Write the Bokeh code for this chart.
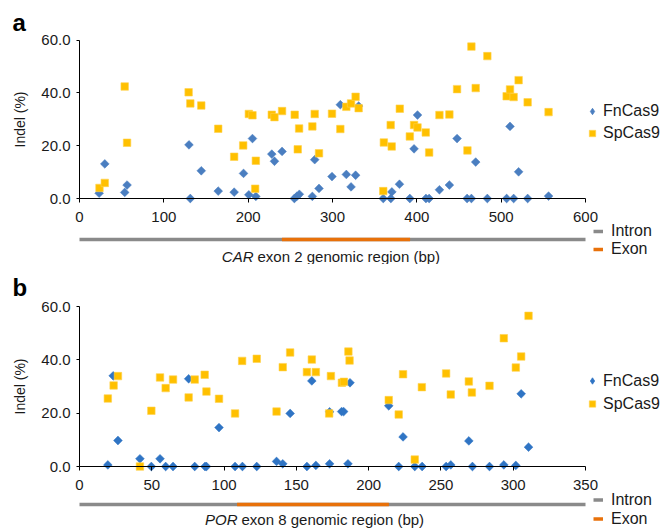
import numpy as np
from bokeh.plotting import figure
from bokeh.models import (Range1d, FixedTicker, NumeralTickFormatter, Legend,
                          LegendItem, Label)
from bokeh.layouts import column
from bokeh.embed import file_html
from bokeh.resources import INLINE

# ---------------- data ----------------
# Panel a: CAR exon 2
a_fn_x = [23.3, 30, 53.6, 56.4, 129.8, 131.4, 144.4, 164.5, 183.4, 194.5, 200.8, 205.1, 209.1,
          228, 231.2, 240.2, 254.8, 257.6, 260.7, 276.1, 278.9, 284, 299.4, 309.3, 316.4, 322,
          327.4, 331, 360.2, 369.2, 370.4, 379.4, 391.7, 396.7, 400.8, 410.8, 414.6, 426.8,
          438.6, 447.7, 459.6, 464.7, 469.8, 483.6, 506.5, 510.5, 514.8, 520.7, 531.4, 556.2]
a_fn_y = [2.0, 13.1, 2.3, 5.1, 20.3, 0, 10.5, 2.8, 2.4, 9.5, 1.4, 22.7, 0.8,
          16.8, 14.1, 17.8, 0, 0.8, 1.6, 0.8, 14.7, 3.8, 8.3, 35.5, 9.1, 4.4,
          8.8, 35.0, 0, 0, 2.5, 5.4, 0, 18.8, 31.6, 0, 0, 3.3,
          5.1, 22.7, 0, 0, 13.8, 0, 0, 27.3, 0, 10.1, 0, 0.9]
a_sp_x = [23.7, 30, 53.6, 56.4, 129.4, 131.4, 144.4, 164.5, 183.4, 194.1, 200.8, 205.1, 208.3,
          209.1, 228, 231.2, 240.2, 255.2, 258.8, 260.4, 276.1, 278.9, 284, 299.4, 309.3, 316.4,
          322, 327.4, 331, 360.2, 360.9, 369.0, 370.2, 379.8, 391.7, 396.7, 400.8, 410.6, 414.6,
          426.8, 438.6, 447.7, 460, 464.7, 469.8, 483.6, 506.5, 510.5, 514.8, 520.7, 531.4, 556.2]
a_sp_y = [4.0, 5.9, 42.4, 21.1, 40.2, 36.0, 35.2, 26.4, 15.8, 20.1, 32.0, 31.5, 3.7,
          14.3, 31.7, 30.8, 33.1, 31.7, 18.6, 26.5, 27.3, 32.0, 17.1, 32.1, 26.3, 34.7,
          36.0, 38.5, 34.2, 2.8, 21.2, 27.8, 19.7, 34.0, 23.5, 27.8, 26.9, 25.0, 17.4,
          31.6, 31.8, 41.4, 18.2, 57.5, 41.8, 53.9, 38.7, 41.3, 38.4, 44.8, 36.4, 32.7]
a_x_ticks = [0, 100, 200, 300, 400, 500, 600]
a_region = [0, 600]
a_exon = [240, 392]

# Panel b: POR exon 8
b_fn_x = [19.6, 23.3, 26.6, 41.8, 49.7, 55.7, 59.6, 64.7, 75.5, 79.7, 86.8, 87.8, 96.5, 107.6,
          112.7, 122.6, 136.3, 140.6, 145.7, 157.3, 160.7, 163.5, 173.0, 173.0, 181.3, 182.7,
          185.7, 187.1, 213.9, 220.8, 223.8, 231.9, 237, 253.6, 256.8, 269.3, 271.8, 283.6,
          293.5, 301.8, 305.5, 310.6]
b_fn_y = [0.6, 34.0, 9.75, 2.9, 0, 2.9, 0, 0, 32.9, 0, 0, 0, 14.6, 0,
          0, 0, 1.9, 1.0, 19.9, 0, 32.1, 0.4, 1.0, 20.5, 20.6, 20.6,
          1.0, 31.4, 22.75, 0, 11.1, 0, 0, 0, 0.6, 9.6, 0, 0,
          0.6, 0.4, 27.25, 7.25]
b_sp_x = [19.6, 23.6, 26.6, 41.8, 49.7, 55.7, 59.6, 64.7, 75.5, 79.7, 86.6, 87.8, 96.5, 107.6,
          112.5, 122.6, 136.3, 140.6, 145.7, 157.3, 160.7, 163.5, 173.9, 172.7, 181.5, 182.9,
          186, 186.8, 213.9, 220.8, 223.8, 231.9, 236.8, 253.6, 256.8, 269.3, 271.4, 283.6,
          293.5, 301.8, 305.5, 310.6]
b_sp_y = [25.5, 30.4, 33.9, 0, 20.9, 33.4, 29.4, 32.6, 25.9, 32.6, 34.4, 28.1, 25.4, 19.9,
          39.6, 40.4, 20.6, 37.25, 42.75, 35.4, 40.1, 35.4, 33.9, 19.9, 31.4, 31.75,
          43.1, 39.75, 24.9, 19.5, 34.6, 2.6, 29.75, 34.9, 27.0, 31.9, 27.75, 30.25,
          48.1, 37.1, 41.25, 56.5]
b_x_ticks = [0, 50, 100, 150, 200, 250, 300, 350]
b_region = [0, 350]
b_exon = [109, 214]

y_ticks = [0, 20, 40, 60]
series_names = ["FnCas9", "SpCas9"]
region_names = ["Intron", "Exon"]

FONT = "Liberation Sans"
YELLOW = "#ffc000"
GRAY = "#8a8a8a"
ORANGE = "#e8710a"
TXT = "#1a1a1a"

W, H = 662, 264
NAN = float("nan")


def make_panel(letter, fn_x, fn_y, sp_x, sp_y, x_ticks, region, exon, gene, rest,
               y60_px, y0_px, bar_px, cap_px, letter_px, leg1_top, leg1_step,
               leg2_top, leg2_step, split_px, blue):
    x_max = x_ticks[-1]
    ppx = 506.0 / x_max          # screen px per data unit (0 -> x=79, max -> x=585)
    ppy = (y0_px - y60_px) / 60.0
    x_start = -79.0 / ppx
    x_end = (W - 79.0) / ppx
    y_end = 60 + y60_px / ppy
    y_start = -(H - y0_px) / ppy

    def dy(px):
        return -(px - y0_px) / ppy

    def dx(px):
        return (px - 79.0) / ppx

    p = figure(width=W, height=H, output_backend="svg", toolbar_location=None,
               x_range=Range1d(x_start, x_end), y_range=Range1d(y_start, y_end),
               min_border=0, min_border_left=0, min_border_right=0,
               min_border_top=0, min_border_bottom=0)
    p.outline_line_color = None
    p.xgrid.visible = False
    p.ygrid.visible = False
    p.background_fill_color = "white"
    p.border_fill_color = "white"

    xa = p.xaxis[0]
    ya = p.yaxis[0]
    xa.fixed_location = 0
    ya.fixed_location = 0
    xa.bounds = (region[0], region[1])
    ya.bounds = (0, 60)
    xa.ticker = FixedTicker(ticks=x_ticks)
    ya.ticker = FixedTicker(ticks=y_ticks)
    ya.formatter = NumeralTickFormatter(format="0.0")
    for ax in (xa, ya):
        ax.axis_line_color = "black"
        ax.axis_line_width = 1
        ax.major_tick_line_color = "black"
        ax.major_tick_in = 0
        ax.minor_tick_line_color = None
        ax.major_label_text_font = FONT
        ax.major_label_text_font_size = "15px"
        ax.major_label_text_color = TXT
    xa.major_tick_out = 4
    ya.major_tick_out = 3
    xa.major_label_standoff = 9
    ya.major_label_standoff = 6
    ya.axis_label = "Indel (%)"
    ya.axis_label_text_font = FONT
    ya.axis_label_text_font_size = "14px"
    ya.axis_label_text_font_style = "normal"
    ya.axis_label_text_color = TXT
    ya.axis_label_standoff = 10

    # data points
    p.scatter(fn_x, fn_y, marker="square", angle=np.pi / 4, size=6.2,
              fill_color=blue, line_color=blue, line_width=0.5)
    p.scatter(sp_x, sp_y, marker="square", size=7.5,
              fill_color=YELLOW, line_color="#ffd24d", line_width=0.6)
    # legend swatches (not plotted: NaN position; legend cannot rotate markers)
    sw_fn = p.scatter(x=[NAN], y=[NAN], marker="diamond", size=9,
                      fill_color=blue, line_color=blue, line_width=0.8)
    sw_sp = p.scatter(x=[NAN], y=[NAN], marker="square", size=7.5,
                      fill_color=YELLOW, line_color="#ffd24d", line_width=0.6)

    # genomic region bar
    bar_y = dy(bar_px)
    r_int = p.segment(x0=[region[0]], y0=[bar_y], x1=[region[1]], y1=[bar_y],
                      line_color=GRAY, line_width=3.5, line_cap="butt")
    r_exo = p.segment(x0=[exon[0]], y0=[bar_y], x1=[exon[1]], y1=[bar_y],
                      line_color=ORANGE, line_width=3.5, line_cap="butt")

    # caption
    cap_y = dy(cap_px)
    split_x = dx(split_px)
    p.add_layout(Label(x=split_x, y=cap_y, text=gene, text_font=FONT, text_font_size="15px",
                       text_font_style="italic", text_align="right", text_baseline="middle",
                       text_color=TXT))
    p.add_layout(Label(x=split_x, y=cap_y, x_offset=4, text=rest, text_font=FONT,
                       text_font_size="15px", text_align="left", text_baseline="middle",
                       text_color=TXT))
    # panel letter
    p.add_layout(Label(x=dx(12), y=dy(letter_px), text=letter, text_font=FONT,
                       text_font_size="24px", text_font_style="bold", text_align="left",
                       text_baseline="middle", text_color="black"))

    # legends (location = bottom-left corner, measured from the frame's bottom-left)
    gw = 16
    leg1 = Legend(items=[LegendItem(label=series_names[0], renderers=[sw_fn]),
                         LegendItem(label=series_names[1], renderers=[sw_sp])],
                  location=(592 - gw // 2, H - leg1_top - 2 * leg1_step),
                  orientation="vertical",
                  padding=0, margin=0, spacing=0, glyph_width=gw, glyph_height=leg1_step,
                  label_height=leg1_step, label_standoff=603 - (592 + gw // 2),
                  border_line_color=None,
                  background_fill_alpha=0, label_text_font=FONT,
                  label_text_font_size="16px", label_text_color=TXT)
    leg2 = Legend(items=[LegendItem(label=region_names[0], renderers=[r_int]),
                         LegendItem(label=region_names[1], renderers=[r_exo])],
                  location=(593, H - leg2_top - 2 * leg2_step), orientation="vertical",
                  padding=0, margin=0, spacing=0, glyph_width=10, glyph_height=leg2_step,
                  label_height=leg2_step, label_standoff=8, border_line_color=None,
                  background_fill_alpha=0, label_text_font=FONT,
                  label_text_font_size="16px", label_text_color=TXT)
    p.add_layout(leg1)
    p.add_layout(leg2)
    return p


pa = make_panel("a", a_fn_x, a_fn_y, a_sp_x, a_sp_y, a_x_ticks, a_region, a_exon,
                "CAR", "exon 2 genomic region (bp)",
                y60_px=39.5, y0_px=198, bar_px=239, cap_px=256, letter_px=22,
                leg1_top=100, leg1_step=22, leg2_top=222, leg2_step=18,
                split_px=253, blue="#4a7ec0")
pb = make_panel("b", b_fn_x, b_fn_y, b_sp_x, b_sp_y, b_x_ticks, b_region, b_exon,
                "POR", "exon 8 genomic region (bp)",
                y60_px=42, y0_px=202, bar_px=240, cap_px=254.5, letter_px=23,
                leg1_top=105, leg1_step=23, leg2_top=226, leg2_step=19,
                split_px=237, blue="#2f74c4")

layout = column(pa, pb, spacing=0)
open("out.html", "w").write(file_html(layout, INLINE))
